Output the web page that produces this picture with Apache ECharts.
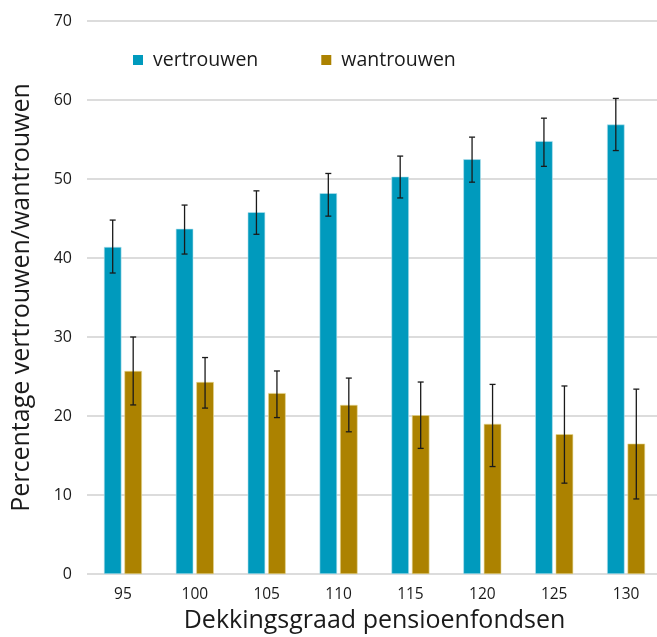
<!DOCTYPE html>
<html><head><meta charset="utf-8">
<script src="https://cdn.jsdelivr.net/npm/echarts@6/dist/echarts.min.js"></script>
<style>html,body{margin:0;padding:0;background:#fff}#c{width:657px;height:637px}</style>
</head><body><div id="c"></div>
<script>
var categories = ['95','100','105','110','115','120','125','130'];
var vertrouwen = [41.4, 43.7, 45.8, 48.2, 50.3, 52.5, 54.8, 56.9];
var vertrouwenLow = [38.1, 40.5, 43.0, 45.3, 47.6, 49.6, 51.6, 53.6];
var vertrouwenHigh = [44.8, 46.7, 48.5, 50.7, 52.9, 55.3, 57.7, 60.2];
var wantrouwen = [25.7, 24.3, 22.9, 21.4, 20.1, 19.0, 17.7, 16.5];
var wantrouwenLow = [21.4, 21.0, 19.8, 18.0, 15.9, 13.6, 11.5, 9.5];
var wantrouwenHigh = [30.0, 27.4, 25.7, 24.8, 24.3, 24.0, 23.8, 23.4];

var FONT = '"Open Sans", "Noto Sans", sans-serif';
var BW = 17.5, GAP = 3;
var OFF = (BW + GAP) / 2;

function errData(low, high) {
  return categories.map(function (c, i) { return [i, low[i], high[i]]; });
}
function errSeries(low, high, dx) {
  return {
    type: 'custom',
    data: errData(low, high),
    z: 10,
    silent: true,
    renderItem: function (params, api) {
      var i = api.value(0);
      var lo = api.coord([i, api.value(1)]);
      var hi = api.coord([i, api.value(2)]);
      var x = lo[0] + dx;
      var cw = 3;
      var st = { stroke: '#1a1a1a', lineWidth: 1.3 };
      return {
        type: 'group',
        children: [
          { type: 'line', shape: { x1: x, y1: hi[1], x2: x, y2: lo[1] }, style: st },
          { type: 'line', shape: { x1: x - cw, y1: hi[1], x2: x + cw, y2: hi[1] }, style: st },
          { type: 'line', shape: { x1: x - cw, y1: lo[1], x2: x + cw, y2: lo[1] }, style: st }
        ]
      };
    }
  };
}

var chart = echarts.init(document.getElementById('c'));
chart.setOption({
  animation: false,
  textStyle: { fontFamily: FONT },
  legend: {
    left: 128, top: 45,
    icon: 'rect', itemWidth: 10, itemHeight: 10, itemGap: 63,
    itemStyle: { borderWidth: 0 },
    textStyle: { fontSize: 19.5, color: '#1a1a1a', fontFamily: FONT, padding: [0, 0, 0, 5] },
    data: ['vertrouwen', 'wantrouwen']
  },
  grid: { left: 87, top: 21, width: 575, bottom: 63, outerBoundsMode: 'none', containLabel: false },
  xAxis: {
    type: 'category',
    data: categories,
    axisLine: { show: false },
    axisTick: { show: false },
    axisLabel: { fontSize: 15.5, color: '#1a1a1a', margin: 13, fontFamily: FONT },
    name: 'Dekkingsgraad pensioenfondsen',
    nameLocation: 'middle',
    nameGap: 34,
    nameTextStyle: { fontSize: 25, color: '#1a1a1a', fontFamily: FONT, verticalAlign: 'top' }
  },
  yAxis: {
    type: 'value',
    min: 0, max: 70, interval: 10,
    axisLine: { show: false },
    axisTick: { show: false },
    axisLabel: { fontSize: 16, color: '#1a1a1a', margin: 15, fontFamily: FONT },
    splitLine: { lineStyle: { color: '#d0d0d0', width: 1.5 } },
    name: 'Percentage vertrouwen/wantrouwen',
    nameLocation: 'middle',
    nameGap: 53,
    nameTextStyle: { fontSize: 25, color: '#1a1a1a', fontFamily: FONT }
  },
  series: [
    {
      name: 'vertrouwen', type: 'bar', data: vertrouwen,
      barWidth: BW, barGap: (GAP / BW * 100).toFixed(1) + '%',
      itemStyle: { color: '#009abd', borderColor: '#b9e3ee', borderWidth: 0.6 }
    },
    {
      name: 'wantrouwen', type: 'bar', data: wantrouwen,
      barWidth: BW,
      itemStyle: { color: '#ac8200', borderColor: '#e6d690', borderWidth: 0.6 }
    },
    errSeries(vertrouwenLow, vertrouwenHigh, -OFF),
    errSeries(wantrouwenLow, wantrouwenHigh, OFF)
  ]
});
</script>
</body></html>
